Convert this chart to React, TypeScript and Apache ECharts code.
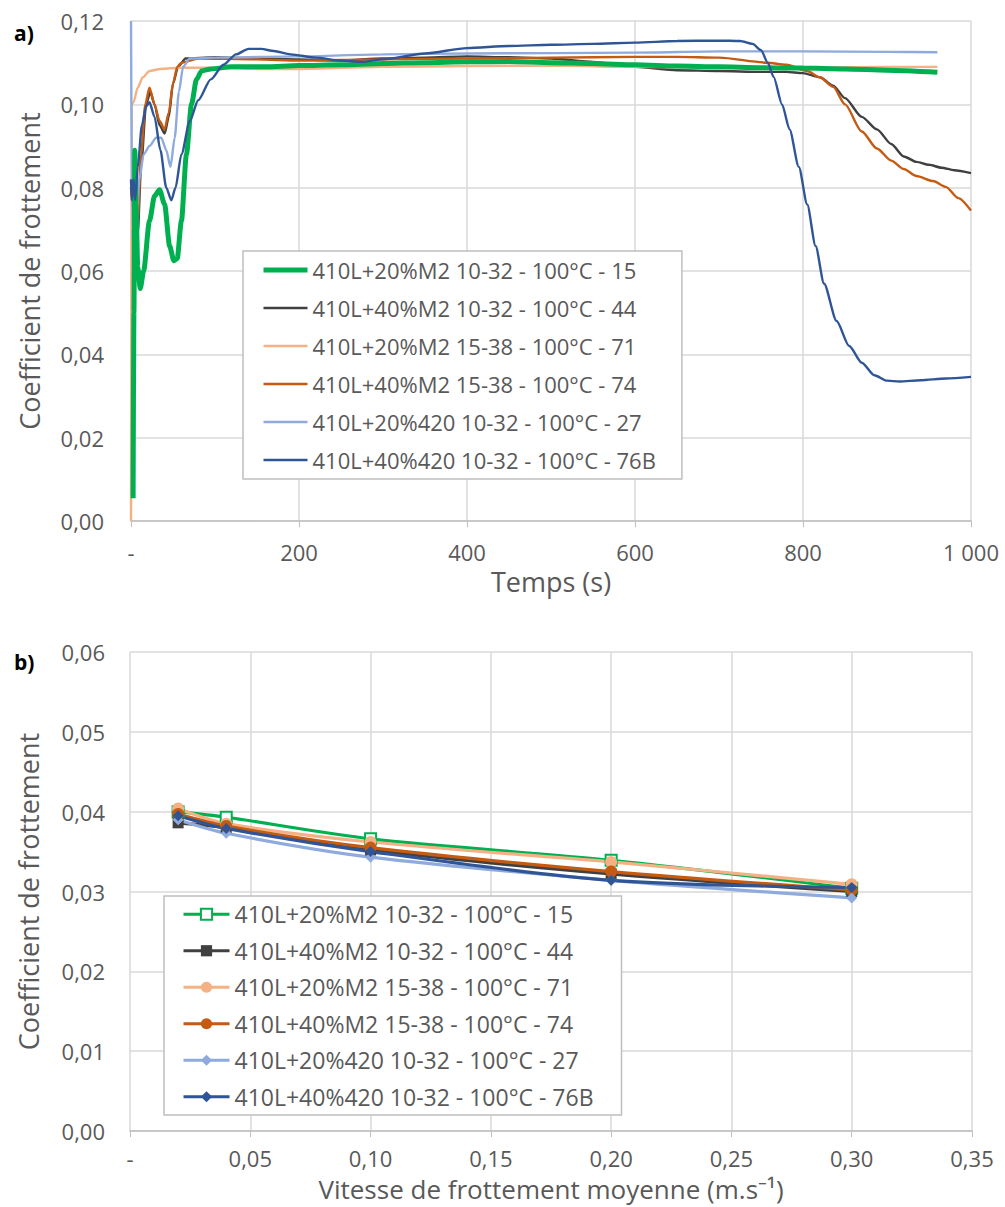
import React, { useEffect, useRef } from "react";
import * as echarts from "echarts";

const seriesNames = [
  "410L+20%M2 10-32 - 100°C - 15",
  "410L+40%M2 10-32 - 100°C - 44",
  "410L+20%M2 15-38 - 100°C - 71",
  "410L+40%M2 15-38 - 100°C - 74",
  "410L+20%420 10-32 - 100°C - 27",
  "410L+40%420 10-32 - 100°C - 76B",
];
const colors = ["#00B050", "#404040", "#F4B183", "#C55A11", "#8FAADC", "#2F5597"];

// Chart a) : friction coefficient vs time [t (s), mu]
const green15: number[][] = [
  [2.5, 0.0055], [3.5, 0.05], [4.5, 0.089], [6, 0.076], [8, 0.061], [11, 0.0558], [15, 0.06],
  [22, 0.072], [28, 0.078], [34, 0.0795], [40, 0.076], [46, 0.066], [51, 0.0625], [55, 0.063],
  [60, 0.072], [66, 0.088], [72, 0.1], [78, 0.106], [84, 0.108], [95, 0.1085], [120, 0.109],
  [160, 0.109], [200, 0.1093], [250, 0.1095], [300, 0.1098], [350, 0.11], [400, 0.1102],
  [450, 0.1103], [500, 0.11], [550, 0.1098], [600, 0.1095], [650, 0.1092], [700, 0.109],
  [750, 0.1088], [800, 0.1087], [850, 0.1085], [900, 0.1082], [960, 0.1077],
];
const gray44: number[][] = [
  [0, 0.08], [4, 0.072], [8, 0.069], [12, 0.085], [18, 0.1], [23, 0.103], [28, 0.1], [34, 0.095],
  [40, 0.093], [45, 0.097], [50, 0.105], [56, 0.109], [65, 0.111], [100, 0.1113], [150, 0.111],
  [200, 0.1108], [250, 0.1105], [300, 0.111], [350, 0.1112], [400, 0.1115], [450, 0.1113],
  [500, 0.111], [550, 0.1102], [600, 0.109], [650, 0.1082], [700, 0.108], [750, 0.1078],
  [780, 0.1078], [800, 0.1075], [820, 0.1065], [836, 0.1045], [850, 0.1015], [870, 0.097],
  [888, 0.094], [905, 0.0905], [920, 0.0875], [935, 0.0862], [950, 0.0855], [965, 0.0848],
  [980, 0.0842], [1000, 0.0835],
];
const lightOrange71: number[][] = [
  [0, 0.0], [0.8, 0.1], [3, 0.1005], [8, 0.104], [14, 0.1065], [22, 0.108], [35, 0.1085],
  [60, 0.1088], [100, 0.1088], [150, 0.1085], [200, 0.1085], [300, 0.109], [400, 0.1092],
  [500, 0.1093], [600, 0.109], [700, 0.1088], [800, 0.1088], [900, 0.109], [960, 0.109],
];
const darkOrange74: number[][] = [
  [0, 0.08], [4, 0.073], [8, 0.072], [12, 0.088], [17, 0.1], [22, 0.104], [28, 0.1], [34, 0.096],
  [40, 0.094], [45, 0.098], [50, 0.105], [55, 0.109], [60, 0.11], [80, 0.111], [150, 0.1108],
  [200, 0.1105], [300, 0.1108], [400, 0.111], [500, 0.1112], [600, 0.1114], [650, 0.1114],
  [700, 0.1112], [757, 0.11], [780, 0.1095], [805, 0.108], [820, 0.1065], [836, 0.1042],
  [850, 0.1], [870, 0.0935], [888, 0.0894], [905, 0.0865], [920, 0.0845], [935, 0.0828],
  [955, 0.0816], [970, 0.0802], [985, 0.0775], [1000, 0.0745],
];
const lightBlue27: number[][] = [
  [0, 0.12], [0.5, 0.12], [1.5, 0.07], [3, 0.066], [6, 0.07], [10, 0.082], [15, 0.088],
  [22, 0.09], [30, 0.092], [36, 0.092], [42, 0.089], [47, 0.085], [52, 0.092], [57, 0.103],
  [62, 0.109], [70, 0.111], [100, 0.1112], [200, 0.1115], [300, 0.112], [400, 0.1122],
  [500, 0.1123], [600, 0.1124], [700, 0.1127], [800, 0.1127], [900, 0.1126], [960, 0.1125],
];
const darkBlue76B: number[][] = [
  [0, 0.082], [1, 0.077], [3, 0.082], [5, 0.077], [8, 0.085], [13, 0.095], [18, 0.0995],
  [22, 0.1005], [28, 0.097], [35, 0.089], [42, 0.08], [48, 0.077], [53, 0.08], [60, 0.088],
  [70, 0.096], [80, 0.101], [95, 0.106], [110, 0.1095], [125, 0.112], [140, 0.1133],
  [155, 0.1133], [170, 0.1128], [190, 0.112], [220, 0.1112], [250, 0.1105], [275, 0.1102],
  [300, 0.1108], [350, 0.1122], [400, 0.1135], [450, 0.114], [500, 0.1143], [550, 0.1145],
  [600, 0.1148], [650, 0.1152], [700, 0.1153], [725, 0.1152], [740, 0.1145], [750, 0.113],
  [758, 0.11], [765, 0.1066], [775, 0.1], [784, 0.094], [795, 0.085], [805, 0.076],
  [815, 0.066], [825, 0.057], [840, 0.048], [855, 0.042], [870, 0.038], [885, 0.035],
  [900, 0.0337], [915, 0.0335], [940, 0.0338], [970, 0.0342], [1000, 0.0346],
];
const timeSeries = [green15, gray44, lightOrange71, darkOrange74, lightBlue27, darkBlue76B];

// Chart b) : friction coefficient vs mean sliding speed
const speeds = [0.02, 0.04, 0.1, 0.2, 0.3];
const muGreen15 = [0.04, 0.0393, 0.0366, 0.0339, 0.0304];
const muGray44 = [0.0386, 0.038, 0.0352, 0.0322, 0.03];
const muLightOrange71 = [0.0404, 0.0385, 0.0362, 0.0337, 0.0309];
const muDarkOrange74 = [0.0397, 0.0382, 0.0355, 0.0325, 0.0302];
const muLightBlue27 = [0.039, 0.0373, 0.0343, 0.0314, 0.0292];
const muDarkBlue76B = [0.0395, 0.0379, 0.035, 0.0314, 0.0305];
const speedSeries = [muGreen15, muGray44, muLightOrange71, muDarkOrange74, muLightBlue27, muDarkBlue76B];

const FONT = "'Open Sans', 'Noto Sans', sans-serif";
const TXT = "#595959";
const GRID = "#D9D9D9";

const comma = (v: number) => v.toFixed(2).replace(".", ",");
const topWidths = [5, 2.4, 2.4, 2.4, 2.4, 2.4];

function topOption(): any {
  return {
    animation: false,
    backgroundColor: "#fff",
    textStyle: { fontFamily: FONT },
    title: {
      text: "a)", left: 9, top: 17,
      textStyle: { fontFamily: FONT, fontSize: 21, fontWeight: "bold", color: "#000" },
    },
    grid: { left: 131, top: 21, width: 840, height: 508 },
    xAxis: {
      type: "value", min: 0, max: 1000, interval: 200,
      name: "Temps (s)", nameLocation: "middle", nameGap: 45,
      nameTextStyle: { fontFamily: FONT, fontSize: 27, color: TXT },
      axisLine: { show: true, lineStyle: { color: "#BFBFBF", width: 1.5 } },
      axisTick: { show: true, length: 6, lineStyle: { color: "#BFBFBF" } },
      axisLabel: {
        margin: 20, fontFamily: FONT, fontSize: 22, color: TXT,
        formatter: (v: number) => (v === 0 ? "-" : v === 1000 ? "1 000" : String(v)),
      },
      splitLine: { show: true, lineStyle: { color: GRID, width: 1.5 } },
    },
    yAxis: {
      type: "value", min: 0, max: 0.12, interval: 0.02,
      name: "Coefficient de frottement", nameLocation: "middle", nameGap: 88, nameRotate: 90,
      nameTextStyle: { fontFamily: FONT, fontSize: 27, color: TXT },
      axisLine: { show: false }, axisTick: { show: false },
      axisLabel: { margin: 27, fontFamily: FONT, fontSize: 22, color: TXT, formatter: comma },
      splitLine: { show: true, lineStyle: { color: GRID, width: 1.5 } },
    },
    legend: {
      orient: "vertical", left: 243, top: 251,
      padding: [7, 26, 7, 18], itemGap: 14, itemWidth: 44, itemHeight: 14,
      backgroundColor: "#fff", borderColor: "#BFBFBF", borderWidth: 1.5,
      itemStyle: { opacity: 0 },
      textStyle: { fontFamily: FONT, fontSize: 22, color: TXT, lineHeight: 24 },
      data: seriesNames.map((n, i) => ({ name: n, lineStyle: { width: topWidths[i] } })),
    },
    series: timeSeries.map((data, i) => ({
      name: seriesNames[i], type: "line", data,
      showSymbol: false, symbol: "none",
      smooth: 0.25, smoothMonotone: "x",
      z: i === 0 ? 3 : i === 5 ? 4 : 2,
      lineStyle: { color: colors[i], width: topWidths[i] },
      itemStyle: { color: colors[i] },
    })),
  };
}

const symbols = ["rect", "rect", "circle", "circle", "diamond", "diamond"];
const symbolSizes = [11, 11, 12, 12, 11, 11];

function bottomOption(): any {
  return {
    animation: false,
    backgroundColor: "#fff",
    textStyle: { fontFamily: FONT },
    title: {
      text: "b)", left: 9, top: 46,
      textStyle: { fontFamily: FONT, fontSize: 21, fontWeight: "bold", color: "#000" },
    },
    grid: { left: 130, top: 52, width: 842, height: 480 },
    xAxis: {
      type: "value", min: 0, max: 0.35, interval: 0.05,
      name: "Vitesse de frottement moyenne (m.s⁻¹)", nameLocation: "middle", nameGap: 45,
      nameTextStyle: { fontFamily: FONT, fontSize: 26, color: TXT },
      axisLine: { show: true, lineStyle: { color: "#BFBFBF", width: 1.5 } },
      axisTick: { show: true, length: 6, lineStyle: { color: "#BFBFBF" } },
      axisLabel: {
        margin: 16, fontFamily: FONT, fontSize: 22, color: TXT,
        formatter: (v: number) => (Math.abs(v) < 1e-9 ? "-" : comma(v)),
      },
      splitLine: { show: true, lineStyle: { color: GRID, width: 1.5 } },
    },
    yAxis: {
      type: "value", min: 0, max: 0.06, interval: 0.01,
      name: "Coefficient de frottement", nameLocation: "middle", nameGap: 88, nameRotate: 90,
      nameTextStyle: { fontFamily: FONT, fontSize: 27, color: TXT },
      axisLine: { show: false }, axisTick: { show: false },
      axisLabel: { margin: 25, fontFamily: FONT, fontSize: 22, color: TXT, formatter: comma },
      splitLine: { show: true, lineStyle: { color: GRID, width: 1.5 } },
    },
    legend: {
      orient: "vertical", left: 164, top: 296,
      padding: [6, 28, 6, 18], itemGap: 12, itemWidth: 46, itemHeight: 14,
      backgroundColor: "#fff", borderColor: "#BFBFBF", borderWidth: 1.5,
      lineStyle: { width: 3 },
      textStyle: { fontFamily: FONT, fontSize: 23, color: TXT, lineHeight: 24.5 },
      data: seriesNames,
    },
    series: speedSeries.map((vals, i) => ({
      name: seriesNames[i], type: "line",
      data: speeds.map((s, k) => [s, vals[k]]),
      symbol: symbols[i], symbolSize: symbolSizes[i], showSymbol: true,
      smooth: 0.3,
      lineStyle: { color: colors[i], width: 3.2 },
      itemStyle: i === 0
        ? { color: "#fff", borderColor: colors[i], borderWidth: 2 }
        : { color: colors[i] },
    })),
  };
}

function Chart({ option, height }: { option: () => any; height: number }) {
  const ref = useRef<HTMLDivElement>(null);
  useEffect(() => {
    if (!ref.current) return;
    const chart = echarts.init(ref.current, undefined, { renderer: "svg" });
    chart.setOption(option());
    return () => chart.dispose();
  }, [option]);
  return <div ref={ref} style={{ width: 1005, height }} />;
}

export default function App() {
  return (
    <div style={{ position: "absolute", left: 0, top: 0, width: 1005, height: 1207, background: "#fff" }}>
      <Chart option={topOption} height={600} />
      <Chart option={bottomOption} height={607} />
    </div>
  );
}
